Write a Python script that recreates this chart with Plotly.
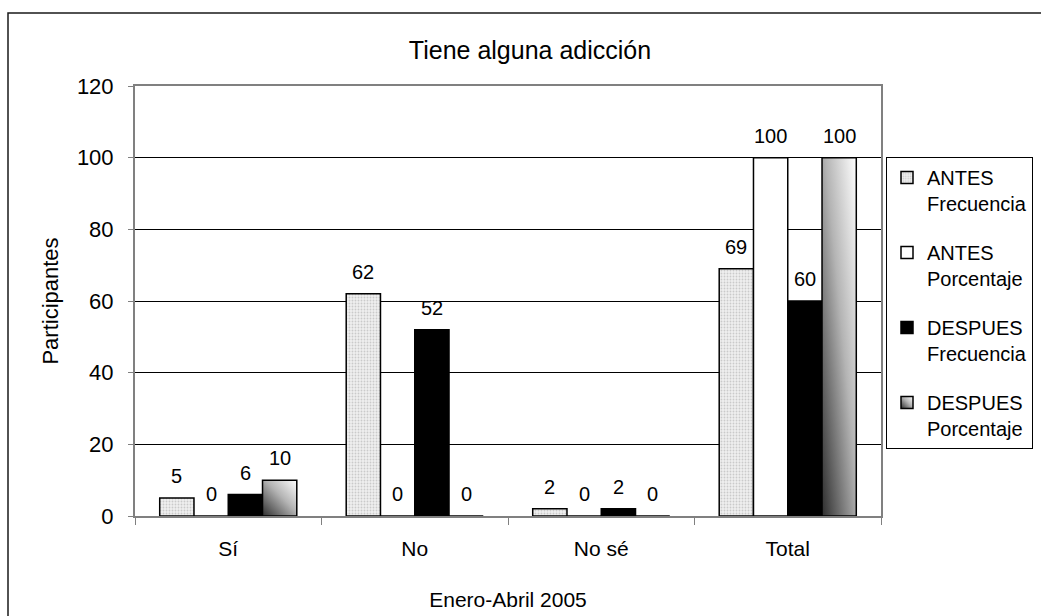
import plotly.graph_objects as go

# Survey answers: "Does the participant have any addiction?"
categories = ["Sí", "No", "No sé", "Total"]
antes_frecuencia = [5, 62, 2, 69]
antes_porcentaje = [0, 0, 0, 100]
despues_frecuencia = [6, 52, 2, 60]
despues_porcentaje = [10, 0, 0, 100]

series_names = [
    "ANTES<br>Frecuencia",
    "ANTES<br>Porcentaje",
    "DESPUES<br>Frecuencia",
    "DESPUES<br>Porcentaje",
]

FONT = "Liberation Sans, Arial, sans-serif"
W, H = 1041, 616
L, R, T, B = 135, 160, 86, 100
BARGAP = 0.265

outline = dict(color="#000000", width=1.5)

fig = go.Figure()

fig.add_trace(go.Bar(
    x=categories, y=antes_frecuencia, name=series_names[0], legendgroup="g1",
    marker=dict(color="#e4e4e4", line=outline,
                pattern=dict(shape=".", bgcolor="#efefef", fgcolor="#a6a6a6",
                             size=3, solidity=0.3)),
))
fig.add_trace(go.Bar(
    x=categories, y=antes_porcentaje, name=series_names[1], legendgroup="g2",
    marker=dict(color="#ffffff", line=outline),
))
fig.add_trace(go.Bar(
    x=categories, y=despues_frecuencia, name=series_names[2], legendgroup="g3",
    marker=dict(color="#000000", line=outline),
))
fig.add_trace(go.Bar(
    x=categories, y=despues_porcentaje, name=series_names[3], legendgroup="g4",
    marker=dict(color="#9a9a9a", line=outline),
))

# value labels above each bar, placed at the bar's slot in its category group
n_series = len(fig.data)
slot = (1 - BARGAP) / n_series
for k, tr in enumerate(fig.data):
    tr.update(hoverinfo="skip")
    offset = -(1 - BARGAP) / 2 + (k + 0.5) * slot
    for i, v in enumerate(tr.y):
        fig.add_annotation(
            x=i + offset, y=v, xref="x", yref="y",
            text=str(v), showarrow=False,
            xanchor="center", yanchor="bottom", yshift=9,
            font=dict(family=FONT, size=20, color="#000000"),
        )

# chart-area frame
px_x = lambda p: (p - L) / (W - L - R)
px_y = lambda p: (H - B - p) / (H - T - B)
fig.add_shape(type="rect", xref="paper", yref="paper",
              x0=px_x(8), x1=px_x(1060), y0=px_y(13), y1=px_y(640),
              line=dict(color="#1a1a1a", width=1.5), fillcolor="rgba(0,0,0,0)",
              layer="below")

fig.update_layout(
    width=W, height=H,
    margin=dict(l=L, r=R, t=T, b=B, autoexpand=False),
    paper_bgcolor="#ffffff", plot_bgcolor="#ffffff",
    font=dict(family=FONT, size=20, color="#000000"),
    barmode="group", bargap=BARGAP, bargroupgap=0,
    title=dict(text="Tiene alguna adicción", x=530 / W, xref="container",
               xanchor="center", y=1 - 50 / H, yref="container", yanchor="middle",
               font=dict(family=FONT, size=25, color="#000000")),
    legend=dict(x=px_x(886), y=px_y(157), xanchor="left", yanchor="top",
                bordercolor="#000000", borderwidth=1, bgcolor="#ffffff",
                font=dict(family=FONT, size=20, color="#000000"),
                traceorder="grouped", tracegroupgap=20, valign="top",
                itemwidth=30),
    showlegend=True,
)

fig.update_yaxes(
    range=[0, 120], dtick=20, tick0=0,
    showgrid=True, gridcolor="#000000", gridwidth=1,
    showline=True, linecolor="#808080", linewidth=2, mirror=True,
    zeroline=False,
    ticks="outside", ticklen=5, tickcolor="#808080", tickwidth=1,
    ticklabelstandoff=10,
    tickfont=dict(family=FONT, size=22, color="#000000"),
    title=dict(text="Participantes", standoff=12,
               font=dict(family=FONT, size=22, color="#000000")),
)
fig.update_xaxes(
    showline=True, linecolor="#808080", linewidth=2, mirror=True,
    ticks="outside", tickson="boundaries", ticklen=7, tickcolor="#808080",
    tickwidth=1, ticklabelstandoff=13,
    tickfont=dict(family=FONT, size=21, color="#000000"),
    title=dict(text="Enero-Abril 2005", standoff=33,
               font=dict(family=FONT, size=21, color="#000000")),
)

# diagonal shading for the DESPUES Porcentaje bars and their legend key
gradient_js = """
var gd = document.getElementById('{plot_id}');
function shadeDespues() {
  var svg = gd.querySelector('svg.main-svg');
  var defs = svg.querySelector('defs');
  var ns = 'http://www.w3.org/2000/svg';
  if (!document.getElementById('despuesShade')) {
    var g = document.createElementNS(ns, 'linearGradient');
    g.setAttribute('id', 'despuesShade');
    g.setAttribute('x1', '0'); g.setAttribute('y1', '1');
    g.setAttribute('x2', '1'); g.setAttribute('y2', '0');
    [['0', '#2e2e2e'], ['0.55', '#b4b4b4'], ['1', '#ffffff']].forEach(function (s) {
      var st = document.createElementNS(ns, 'stop');
      st.setAttribute('offset', s[0]);
      st.setAttribute('stop-color', s[1]);
      g.appendChild(st);
    });
    defs.appendChild(g);
  }
  var traces = gd.querySelectorAll('.barlayer .trace.bars');
  if (traces.length > 3) {
    traces[3].querySelectorAll('.point path').forEach(function (p) {
      p.style.fill = 'url(#despuesShade)';
    });
  }
  var items = gd.querySelectorAll('.legend .traces');
  if (items.length > 3) {
    items[3].querySelectorAll('.legendpoints path').forEach(function (p) {
      p.style.fill = 'url(#despuesShade)';
    });
  }
}
shadeDespues();
gd.on('plotly_afterplot', shadeDespues);
"""

fig.write_html("out.html", post_script=gradient_js)
